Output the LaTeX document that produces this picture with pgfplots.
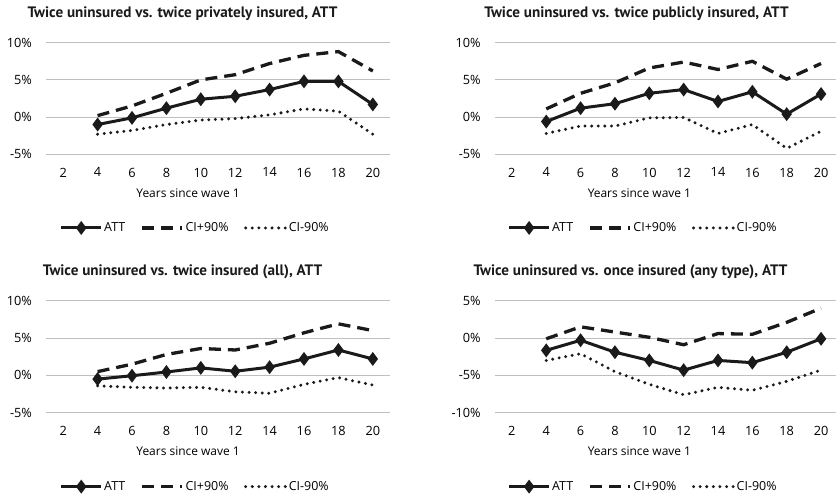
\documentclass[border=0pt]{standalone}
\usepackage{fontspec}
\setmainfont{Open Sans}
\newfontfamily\titlefont{PT Sans}
\usepackage{pgfplots}
\pgfplotsset{compat=1.18}

\definecolor{ln}{HTML}{1A1A1A}
\definecolor{gridc}{HTML}{BFBFBF}

\pgfplotsset{
  panel/.style={
    scale only axis, width=344bp, height=111.6bp,
    xmin=1, xmax=21, xtick={2,4,...,20},
    axis line style={draw=none},
    major tick length=0pt,
    ymajorgrids, grid style={gridc, line width=1bp},
    tick label style={font=\fontsize{12.8}{15}\selectfont},
    /pgf/number format/assume math mode=true,
    yticklabel={\pgfmathprintnumber{\tick}\%},
    xticklabel style={yshift=-10bp},
    yticklabel style={xshift=-10.5bp},
    xlabel={Years since wave 1},
    label style={font=\fontsize{12}{14}\selectfont},
    clip=false,
    legend columns=3,
    legend style={draw=none, fill=none, anchor=center,
      font=\fontsize{12.5}{14}\selectfont,
      nodes={inner sep=1.5bp},
      /tikz/every even column/.append style={column sep=14bp}},
    legend image code/.code={\draw[mark repeat=2,mark phase=2,##1] plot coordinates {(0bp,0bp) (20bp,0bp) (40bp,0bp)};},
  },
  left panel/.style={
    xlabel style={at={(0.413,-0.347)}, anchor=center},
    legend style={at={(0.433,-0.66)}},
  },
  right panel/.style={
    width=341.3bp, xmax=20.87,
    xlabel style={at={(0.424,-0.347)}, anchor=center},
    legend style={at={(0.434,-0.66)}},
  },
  att/.style={ln, line width=3bp, mark=diamond*, mark size=4.5bp, mark options={solid}},
  ciu/.style={ln, line width=3.3bp, dash pattern=on 12bp off 7bp},
  cil/.style={ln, line width=3.3bp, line cap=round, dash pattern=on 0bp off 6.6bp},
}
\tikzset{ptitle/.style={anchor=center, inner sep=0pt, text=ln,
  font=\titlefont\bfseries\fontsize{15.2}{17}\selectfont}}

\begin{document}
\begin{tikzpicture}
\useasboundingbox (0,0) rectangle (836bp,496bp);

% top left
\begin{axis}[panel, left panel, at={(46bp,341.7bp)}, anchor=south west,
  ymin=-5, ymax=10, ytick={-5,0,5,10}]
\addplot[att] coordinates {(4,-1.0) (6,-0.1) (8,1.2) (10,2.4) (12,2.8) (14,3.7) (16,4.8) (18,4.8) (20,1.7)};
\addlegendentry{ATT}
\addplot[ciu] coordinates {(4,0.2) (6,1.5) (8,3.2) (10,5.0) (12,5.7) (14,7.2) (16,8.3) (18,8.8) (20,6.2)};
\addlegendentry{CI+90\%}
\addplot[cil] coordinates {(4,-2.3) (6,-1.8) (8,-1.0) (10,-0.4) (12,-0.2) (14,0.3) (16,1.1) (18,0.8) (20,-2.3)};
\addlegendentry{CI-90\%}
\end{axis}

% top right
\begin{axis}[panel, right panel, at={(494.7bp,341.7bp)}, anchor=south west,
  ymin=-5, ymax=10, ytick={-5,0,5,10}]
\addplot[att] coordinates {(4,-0.6) (6,1.2) (8,1.8) (10,3.2) (12,3.7) (14,2.1) (16,3.4) (18,0.4) (20,3.1)};
\addlegendentry{ATT}
\addplot[ciu] coordinates {(4,1.1) (6,3.2) (8,4.6) (10,6.6) (12,7.4) (14,6.4) (16,7.5) (18,5.1) (20,7.2)};
\addlegendentry{CI+90\%}
\addplot[cil] coordinates {(4,-2.2) (6,-1.2) (8,-1.2) (10,-0.1) (12,-0.05) (14,-2.2) (16,-1.0) (18,-4.2) (20,-1.9)};
\addlegendentry{CI-90\%}
\end{axis}

% bottom left
\begin{axis}[panel, left panel, at={(46bp,83.3bp)}, anchor=south west, height=112bp,
  ymin=-5, ymax=10, ytick={-5,0,5,10}]
\addplot[att] coordinates {(4,-0.5) (6,-0.05) (8,0.45) (10,1.0) (12,0.55) (14,1.1) (16,2.2) (18,3.4) (20,2.2)};
\addlegendentry{ATT}
\addplot[ciu] coordinates {(4,0.5) (6,1.5) (8,2.8) (10,3.6) (12,3.4) (14,4.3) (16,5.7) (18,6.9) (20,6.0)};
\addlegendentry{CI+90\%}
\addplot[cil] coordinates {(4,-1.4) (6,-1.6) (8,-1.7) (10,-1.6) (12,-2.2) (14,-2.4) (16,-1.2) (18,-0.3) (20,-1.3)};
\addlegendentry{CI-90\%}
\end{axis}

% bottom right
\begin{axis}[panel, right panel, at={(494.7bp,83.3bp)}, anchor=south west, height=112bp,
  ymin=-10, ymax=5, ytick={-10,-5,0,5}]
\addplot[att] coordinates {(4,-1.65) (6,-0.3) (8,-1.9) (10,-3.0) (12,-4.3) (14,-3.0) (16,-3.3) (18,-1.9) (20,-0.1)};
\addlegendentry{ATT}
\addplot[ciu] coordinates {(4,-0.1) (6,1.5) (8,0.8) (10,0.1) (12,-0.9) (14,0.6) (16,0.5) (18,2.1) (20,4.0)};
\addlegendentry{CI+90\%}
\addplot[cil] coordinates {(4,-3.0) (6,-2.1) (8,-4.5) (10,-6.2) (12,-7.6) (14,-6.6) (16,-7.0) (18,-5.8) (20,-4.3)};
\addlegendentry{CI-90\%}
\end{axis}

% panel titles
\node[ptitle] at (182.5bp,482bp) {Twice uninsured vs. twice privately insured, ATT};
\node[ptitle] at (636.5bp,482bp) {Twice uninsured vs. twice publicly insured, ATT};
\node[ptitle] at (182.5bp,224bp) {Twice uninsured vs. twice insured (all), ATT};
\node[ptitle] at (630.5bp,224bp) {Twice uninsured vs. once insured (any type), ATT};
\end{tikzpicture}
\end{document}
